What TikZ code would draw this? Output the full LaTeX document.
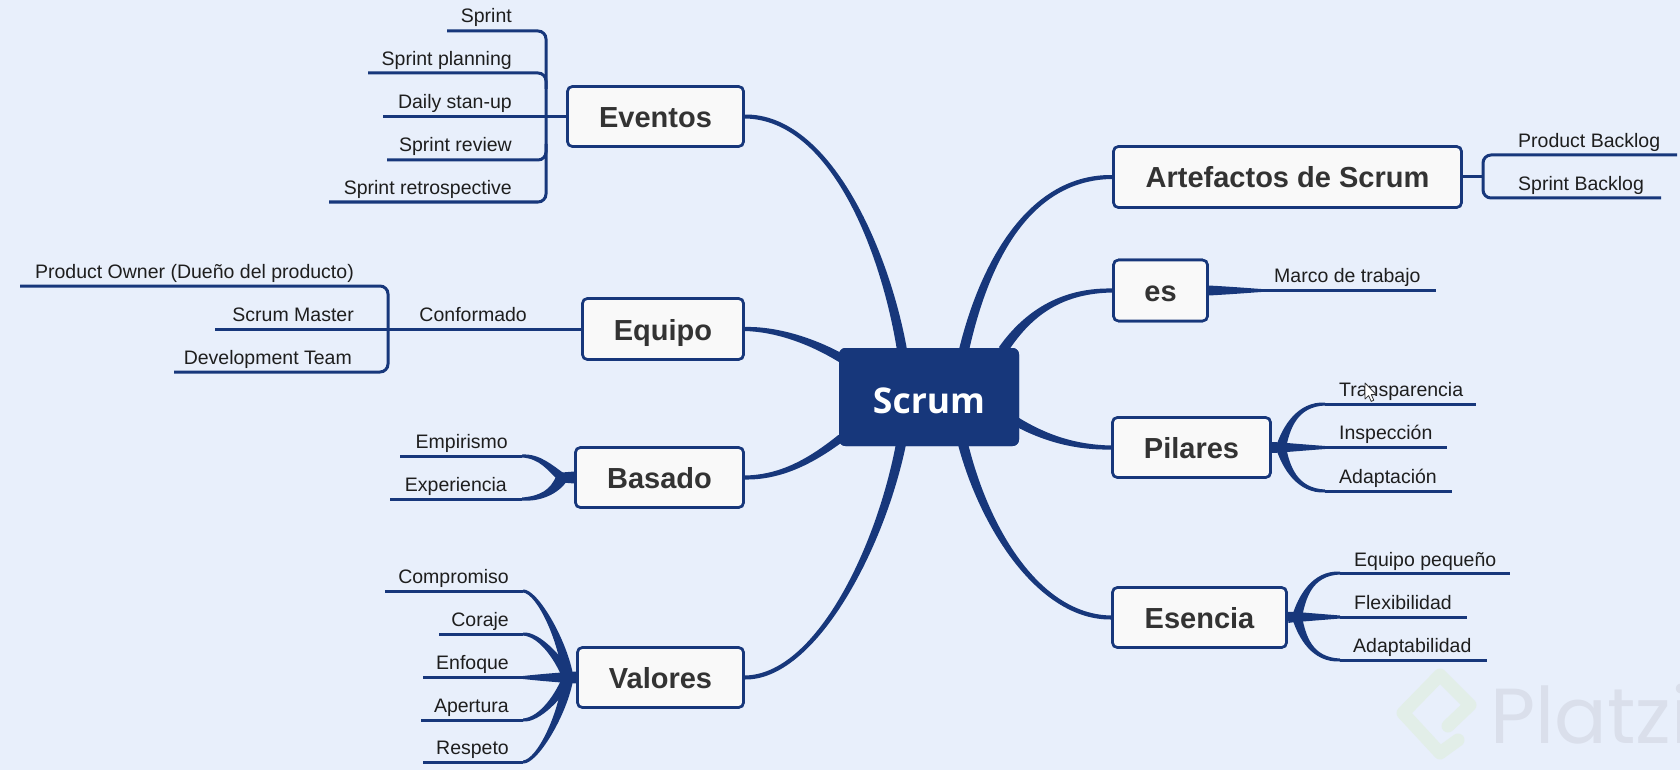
\documentclass[tikz,border=0pt]{standalone}
\usepackage{fontspec}
\usetikzlibrary{calc}
\setmainfont{Liberation Sans}
\newfontfamily\scrumfont{Open Sans}
\newfontfamily\wmfont{Poppins}
\definecolor{pagebg}{HTML}{E8EFFB}
\definecolor{navy}{HTML}{17377B}
\definecolor{boxfill}{HTML}{F9F9F9}
\definecolor{boxtext}{HTML}{333333}
\definecolor{leaftext}{HTML}{1E1E1E}
\definecolor{wmgreen}{HTML}{E2EEE8}
\definecolor{wmgrey}{HTML}{DADFEB}
\tikzset{
  topic/.style={draw=navy,line width=2.6pt,fill=boxfill,rounded corners=5pt,text=boxtext,
    font=\fontsize{29}{32}\selectfont\bfseries,text height=22pt,text depth=0pt,inner sep=0pt,align=center},
  rootbox/.style={draw=navy,line width=1pt,fill=navy,rounded corners=6pt,text=white,
    font=\scrumfont\fontsize{35.5}{40}\selectfont\bfseries,text height=32pt,text depth=0pt,inner sep=0pt},
  leafw/.style={anchor=base west,inner sep=0pt,text=leaftext,font=\fontsize{19.5}{22}\selectfont},
  leafe/.style={anchor=base east,inner sep=0pt,text=leaftext,font=\fontsize{19.5}{22}\selectfont},
  thinline/.style={draw=navy,line width=3pt},
  bracket/.style={draw=navy,line width=3pt,rounded corners=8pt},
  branch/.style={fill=navy,draw=none},
}
\newcommand{\taper}[6]{%
  \fill[branch] let \p0=(#1),\p1=(#2),\p2=(#3),\p3=(#4),
    \n0={atan2(\y1-\y0,\x1-\x0)},\n3={atan2(\y3-\y2,\x3-\x2)} in
    ($(#1)+({\n0+90}:#5pt)$)
    .. controls ($(#2)+({\n0+90}:{(2*#5+#6)/3*1pt})$) and ($(#3)+({\n3+90}:{(#5+2*#6)/3*1pt})$) ..
    ($(#4)+({\n3+90}:#6pt)$) -- ($(#4)+({\n3-90}:#6pt)$)
    .. controls ($(#3)+({\n3-90}:{(#5+2*#6)/3*1pt})$) and ($(#2)+({\n0-90}:{(2*#5+#6)/3*1pt})$) ..
    ($(#1)+({\n0-90}:#5pt)$) -- cycle;
}
\begin{document}
\begin{tikzpicture}[x=1pt,y=-1pt]
\useasboundingbox (0,0) rectangle (1680,770);
\fill[pagebg] (0,0) rectangle (1680,770);

% watermark
\draw[wmgreen,line width=13pt,line join=round,line cap=round]
  (1448,726) -- (1470,705) -- (1440,675) -- (1403,713) -- (1440,753) -- (1458,740);
\node[anchor=base west,inner sep=0pt,text=wmgrey,font=\wmfont\fontsize{78}{84}\selectfont] (wm) at (1490,743) {Platzi};

% nodes (positions first, so connectors can use their names)
\node[rootbox,minimum width=179,minimum height=97] (scrum) at (929,397) {Scrum};
\node[topic,minimum width=176,minimum height=60] (ev) at (655.5,116.5) {Eventos};
\node[topic,minimum width=161,minimum height=61] (eq) at (663,329) {Equipo};
\node[topic,minimum width=168,minimum height=60] (ba) at (659.5,477.5) {Basado};
\node[topic,minimum width=166,minimum height=60] (va) at (660.5,677.5) {Valores};
\node[topic,minimum width=348,minimum height=61] (ar) at (1287.5,177) {Artefactos de Scrum};
\node[topic,minimum width=94,minimum height=61] (es) at (1160.5,290.5) {es};
\node[topic,minimum width=158,minimum height=60] (pi) at (1191.5,447.5) {Pilares};
\node[topic,minimum width=174,minimum height=60] (en) at (1199.5,617.5) {Esencia};

% anchor points on the root box
\coordinate (s-ev) at (902,350);
\coordinate (s-ar) at (964,350);
\coordinate (s-es) at (1003,350);
\coordinate (s-pi) at (1017,422);
\coordinate (s-en) at (963,444);
\coordinate (s-va) at (901,444);
\coordinate (s-eq) at (841,358);
\coordinate (s-ba) at (841,438);

% main branches
\taper{s-ev}{885,250}{830,116.5}{ev.east}{5}{2}
\taper{s-ar}{985,260}{1030,177}{ar.west}{5}{2}
\taper{s-es}{1030,310}{1065,290.5}{es.west}{5}{2}
\taper{s-pi}{1045,438}{1075,447.5}{pi.west}{4.5}{2}
\taper{s-en}{985,530}{1040,617.5}{en.west}{5}{2}
\taper{s-va}{880,550}{815,677.5}{va.east}{5}{2}
\taper{s-eq}{810,340}{775,329}{eq.east}{4.5}{2}
\taper{s-ba}{810,462}{780,477.5}{ba.east}{4}{2}

% Eventos leaves
\node[leafe] (l-sp) at (512,23) {Sprint};
\node[leafe] (l-pl) at (512,66) {Sprint planning};
\node[leafe] (l-da) at (512,109) {Daily stan-up};
\node[leafe] (l-re) at (512,152) {Sprint review};
\node[leafe] (l-rt) at (512,195) {Sprint retrospective};
\coordinate (e1) at (447,31);
\coordinate (e2) at (368,73);
\coordinate (e3) at (383,116.5);
\coordinate (e4) at (387,160);
\coordinate (e5) at (329,202);
\coordinate (ev-v) at (546,116.5);
\draw[bracket] (e1) -- (e1 -| ev-v) -- (e5 -| ev-v) -- (e5);
\draw[bracket] (e2) -- (e2 -| ev-v) -- ($(e2 -| ev-v)+(0,16)$);
\draw[bracket] (e4) -- (e4 -| ev-v) -- ($(e4 -| ev-v)+(0,-16)$);
\draw[thinline] (e3) -- (ev.west);

% Equipo leaves
\node[leafe] (l-po) at (354,278) {Product Owner (Dueño del producto)};
\node[leafe] (l-sm) at (354,321) {Scrum Master};
\node[leafe] (l-dt) at (352,364) {Development Team};
\node[leafe] (l-co) at (527,321) {Conformado};
\coordinate (q1) at (20,286);
\coordinate (q2) at (215,329);
\coordinate (q3) at (174,372);
\coordinate (eq-v) at (388,329);
\draw[bracket] (q1) -- (q1 -| eq-v) -- (q3 -| eq-v) -- (q3);
\draw[thinline] (q2) -- (eq.west);

% Basado leaves
\node[leafe] (l-em) at (508,448) {Empirismo};
\node[leafe] (l-ex) at (507,491) {Experiencia};
\coordinate (bj) at (562,477.5);
\coordinate (b1a) at (522,456);
\coordinate (b2a) at (522,499);
\coordinate (b1) at (400,456);
\coordinate (b2) at (390,499);
\draw[thinline] (b1) -- (b1a);
\draw[thinline] (b2) -- (b2a);
\taper{ba.west}{570,477.5}{566,477.5}{bj}{6}{5}
\taper{bj}{550,468}{540,456}{b1a}{4.5}{1.5}
\taper{bj}{555,492}{540,499}{b2a}{6}{1.5}

% Valores leaves
\node[leafe] (l-cm) at (509,583) {Compromiso};
\node[leafe] (l-cr) at (509,626) {Coraje};
\node[leafe] (l-en) at (509,669) {Enfoque};
\node[leafe] (l-ap) at (509,712) {Apertura};
\node[leafe] (l-rs) at (509,754) {Respeto};
\coordinate (vj) at (568,677.5);
\coordinate (v1a) at (523,591);
\coordinate (v2a) at (523,634);
\coordinate (v3a) at (523,677.5);
\coordinate (v4a) at (523,720);
\coordinate (v5a) at (523,762);
\draw[thinline] (385,591) -- (v1a);
\draw[thinline] (439,634) -- (v2a);
\draw[thinline] (423,677.5) -- (v3a);
\draw[thinline] (421,720) -- (v4a);
\draw[thinline] (423,762) -- (v5a);
\taper{va.west}{574,677.5}{571,677.5}{vj}{6}{5.5}
\taper{vj}{563,640}{537,591}{v1a}{5.5}{1.5}
\taper{vj}{560,660}{540,634}{v2a}{5.5}{1.5}
\taper{vj}{550,677.5}{535,677.5}{v3a}{5.5}{1.5}
\taper{vj}{560,695}{540,720}{v4a}{5.5}{1.5}
\taper{vj}{563,715}{537,762}{v5a}{5.5}{1.5}

% Artefactos leaves
\node[leafw] (l-pb) at (1518,148) {Product Backlog};
\node[leafw] (l-bb) at (1518,190) {Sprint Backlog};
\coordinate (a1) at (1677,155);
\coordinate (a2) at (1661,198);
\coordinate (ar-v) at (1483,177);
\draw[bracket] (a1) -- (a1 -| ar-v) -- (a2 -| ar-v) -- (a2);
\draw[thinline] (ar.east) -- (ar-v);

% es leaf
\node[leafw] (l-ma) at (1274,282) {Marco de trabajo};
\coordinate (m1a) at (1261,290.5);
\coordinate (m1) at (1436,290.5);
\draw[thinline] (m1a) -- (m1);
\taper{es.east}{1230,290.5}{1245,290.5}{m1a}{5}{1.5}

% Pilares leaves
\node[leafw] (l-tr) at (1339,396) {Transparencia};
\node[leafw] (l-in) at (1339,439) {Inspección};
\node[leafw] (l-ad) at (1339,483) {Adaptación};
\coordinate (pj) at (1281,447.5);
\coordinate (p1a) at (1325,404);
\coordinate (p2a) at (1325,447.5);
\coordinate (p3a) at (1325,491);
\draw[thinline] (p1a) -- (1476,404);
\draw[thinline] (p2a) -- (1447,447.5);
\draw[thinline] (p3a) -- (1452,491);
\taper{pi.east}{1276,447.5}{1278,447.5}{pj}{5.5}{5}
\taper{pj}{1286,428}{1297,404}{p1a}{5}{1.5}
\taper{pj}{1295,447.5}{1310,447.5}{p2a}{5}{1.5}
\taper{pj}{1286,467}{1297,491}{p3a}{5}{1.5}

% Esencia leaves
\node[leafw] (l-pq) at (1354,566) {Equipo pequeño};
\node[leafw] (l-fl) at (1354,609) {Flexibilidad};
\node[leafw] (l-at) at (1353,652) {Adaptabilidad};
\coordinate (nj) at (1297,617);
\coordinate (n1a) at (1340,573);
\coordinate (n2a) at (1340,617);
\coordinate (n3a) at (1340,660);
\draw[thinline] (n1a) -- (1510,573);
\draw[thinline] (n2a) -- (1467,617);
\draw[thinline] (n3a) -- (1487,660);
\taper{en.east}{1292,617}{1294,617}{nj}{5.5}{5}
\taper{nj}{1302,597}{1312,573}{n1a}{5}{1.5}
\taper{nj}{1311,617}{1326,617}{n2a}{5}{1.5}
\taper{nj}{1302,637}{1312,660}{n3a}{5}{1.5}

% boxes again on top of the branch starts
\node[rootbox,minimum width=179,minimum height=97] at (scrum) {Scrum};
\node[topic,minimum width=176,minimum height=60] at (ev) {Eventos};
\node[topic,minimum width=161,minimum height=61] at (eq) {Equipo};
\node[topic,minimum width=168,minimum height=60] at (ba) {Basado};
\node[topic,minimum width=166,minimum height=60] at (va) {Valores};
\node[topic,minimum width=348,minimum height=61] at (ar) {Artefactos de Scrum};
\node[topic,minimum width=94,minimum height=61] at (es) {es};
\node[topic,minimum width=158,minimum height=60] at (pi) {Pilares};
\node[topic,minimum width=174,minimum height=60] at (en) {Esencia};

% mouse pointer
\filldraw[fill=white,draw=black!80,line width=0.8pt,line join=round,shift={(1365,383)}]
  (0,0) -- (0,16) -- (3.6,12.6) -- (6.2,18.4) -- (8.8,17.2) -- (6.2,11.6) -- (11.2,11.6) -- cycle;
\end{tikzpicture}
\end{document}
